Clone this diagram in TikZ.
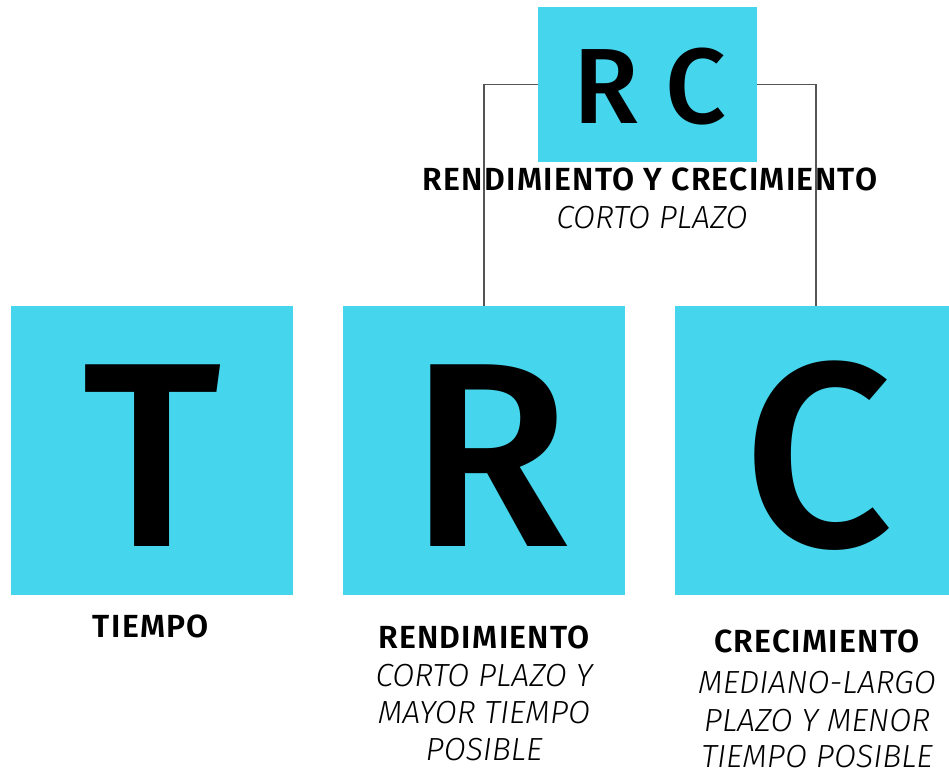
\documentclass[tikz,border=0pt]{standalone}
\usepackage{fontspec}
\setmainfont{Fira Sans}[ItalicFont={Fira Sans Light Italic},BoldFont={Fira Sans SemiBold}]
\newfontfamily\lblbold{Fira Sans SemiBold}[LetterSpace=4]
\newfontfamily\bigfont{Fira Sans Medium}
\definecolor{boxcyan}{HTML}{45D5EC}
\definecolor{linegray}{HTML}{555555}
\tikzset{
  box/.style={fill=boxcyan, draw=none, minimum width=282pt, minimum height=289pt, inner sep=0pt, anchor=north west},
  topbox/.style={fill=boxcyan, draw=none, minimum width=219pt, minimum height=155pt, inner sep=0pt, anchor=north west},
  bigletter/.style={anchor=base, inner sep=0pt, font=\fontsize{263}{263}\bigfont\selectfont},
  topletter/.style={anchor=base, inner sep=0pt, font=\fontsize{107}{107}\bigfont\selectfont},
  boldlbl/.style={anchor=base, inner sep=0pt, font=\fontsize{32}{32}\lblbold\selectfont},
  itlbl/.style={anchor=base, inner sep=0pt, font=\fontsize{32}{32}\itshape\selectfont},
  conn/.style={draw=linegray, line width=1.5pt}
}
\begin{document}
\begin{tikzpicture}[x=1pt,y=-1pt]
\useasboundingbox (0,0) rectangle (949,771);
% boxes
\node[topbox] (top) at (538,7) {};
\node[box] (tbox) at (11,306) {};
\node[box] (rbox) at (343,306) {};
\node[box] (cbox) at (675,306) {};
% connectors
\draw[conn] (top.west) -| (rbox.north);
\draw[conn] (top.east) -| (cbox.north);
% letters
\node[topletter] (rc) at (650,123) {R C};
\node[bigletter] (tl) at (152,546) {T};
\node[bigletter] (rl) at (490,546) {R};
\node[bigletter] (cl) at (818,546) {C};
% top labels
\node[boldlbl] (toptitle) at (650,190) {RENDIMIENTO Y CRECIMIENTO};
\node[itlbl] (topsub) at (652,228) {CORTO PLAZO};
% bottom labels
\node[boldlbl] (tlbl) at (151,637) {TIEMPO};
\node[boldlbl] (rlbl) at (484,648) {RENDIMIENTO};
\node[itlbl] (r1) at (484,686) {CORTO PLAZO Y};
\node[itlbl] (r2) at (484,723) {MAYOR TIEMPO};
\node[itlbl] (r3) at (484,760) {POSIBLE};
\node[boldlbl] (clbl) at (817,652) {CRECIMIENTO};
\node[itlbl] (c1) at (817,693) {MEDIANO-LARGO};
\node[itlbl] (c2) at (817,731) {PLAZO Y MENOR};
\node[itlbl] (c3) at (817,767) {TIEMPO POSIBLE};
\end{tikzpicture}
\end{document}
